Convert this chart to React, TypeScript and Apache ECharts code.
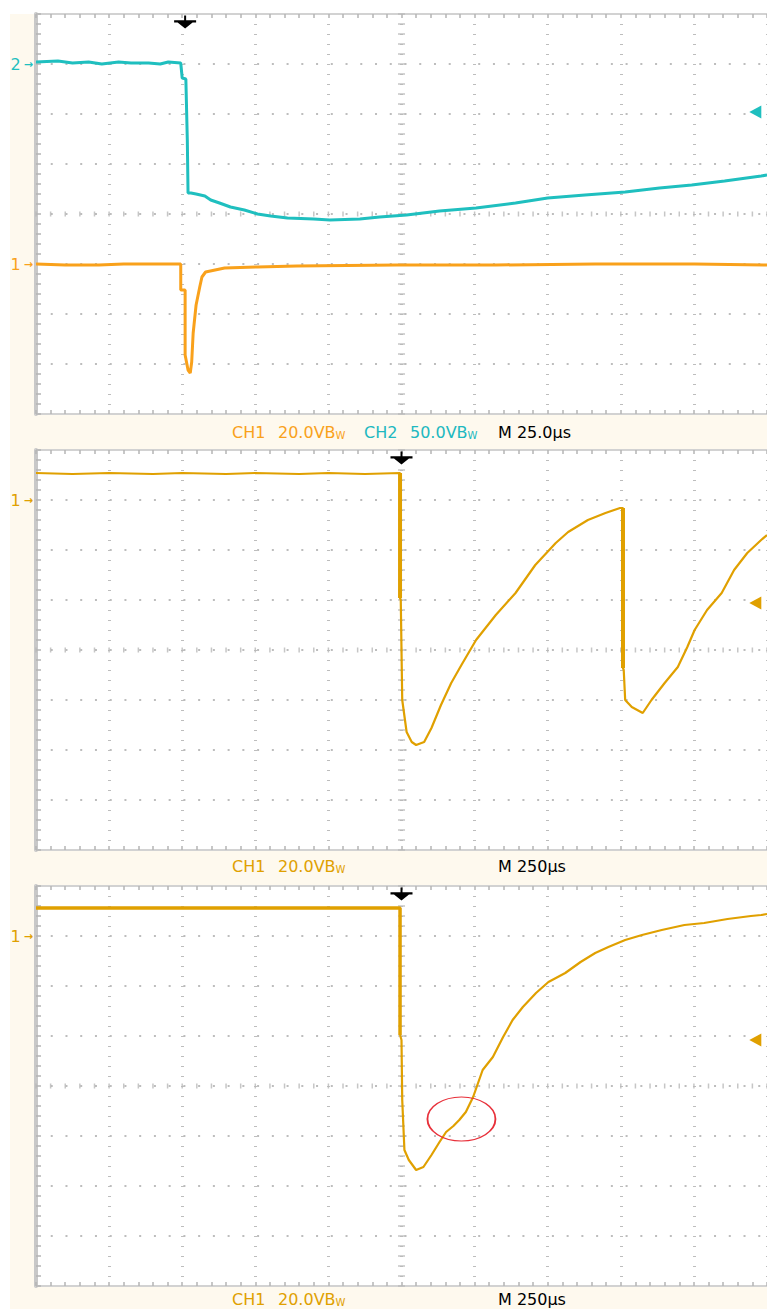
import React, { useEffect, useRef } from "react";
import * as echarts from "echarts";

// x: divisions from the left edge of the graticule (0..10), y: divisions from the centre (-4..4)

// Panel 1 — 25.0 µs/div
const panel1Ch2: number[][] = [
  [0, 3.04], [0.3, 3.06], [0.5, 3.02], [0.72, 3.04], [0.9, 3.0], [1.13, 3.04], [1.3, 3.02],
  [1.54, 3.02], [1.7, 3.0], [1.81, 3.04], [1.98, 3.02], [2.0, 2.72], [2.05, 2.7], [2.07, 1.48],
  [2.08, 0.42], [2.12, 0.42], [2.19, 0.4], [2.31, 0.36], [2.39, 0.28], [2.51, 0.22], [2.66, 0.14],
  [2.85, 0.08], [3.03, 0.0], [3.21, -0.04], [3.44, -0.08], [3.8, -0.1], [4.02, -0.12], [4.43, -0.1],
  [4.7, -0.06], [5.07, -0.02], [5.52, 0.06], [6.02, 0.12], [6.56, 0.22], [7.0, 0.32], [7.51, 0.38],
  [8.06, 0.44], [8.53, 0.52], [8.97, 0.58], [9.42, 0.66], [9.92, 0.76], [10, 0.78],
];
const panel1Ch1: number[][] = [
  [0, -1.0], [0.4, -1.02], [0.86, -1.02], [1.2, -1.0], [1.54, -1.0], [1.98, -1.0], [1.98, -1.52],
  [2.04, -1.52], [2.04, -2.82], [2.08, -3.12], [2.11, -3.18], [2.13, -2.96], [2.15, -2.38],
  [2.19, -1.82], [2.24, -1.46], [2.27, -1.26], [2.32, -1.16], [2.58, -1.08], [3.03, -1.06],
  [3.57, -1.04], [4.93, -1.02], [6.29, -1.02], [7.65, -1.0], [9.01, -1.0], [10, -1.02],
];

// Panel 2 — 250 µs/div
const panel2Ch1: number[][] = [
  [0, 3.54], [0.5, 3.52], [1.0, 3.54], [1.6, 3.52], [2.0, 3.54], [2.6, 3.52], [3.0, 3.54],
  [3.6, 3.52], [4.0, 3.54], [4.5, 3.52], [4.98, 3.54], [4.98, 1.04], [4.99, 1.0], [5.01, -1.0],
  [5.07, -1.64], [5.14, -1.84], [5.2, -1.9], [5.31, -1.84], [5.41, -1.56], [5.54, -1.1],
  [5.68, -0.66], [5.82, -0.3], [6.02, 0.2], [6.29, 0.7], [6.56, 1.14], [6.83, 1.7], [7.11, 2.14],
  [7.28, 2.36], [7.55, 2.6], [7.79, 2.74], [7.99, 2.84], [8.03, 2.84], [8.03, -0.36], [8.04, -0.4],
  [8.06, -1.0], [8.15, -1.14], [8.3, -1.26], [8.42, -1.0], [8.6, -0.66], [8.78, -0.34], [8.91, 0.06],
  [9.01, 0.4], [9.18, 0.8], [9.38, 1.14], [9.55, 1.6], [9.73, 1.94], [9.92, 2.2], [10, 2.3],
];
const panel2EdgeA: number[][] = [[4.98, 3.54], [4.98, 1.04]];
const panel2EdgeB: number[][] = [[8.03, 2.84], [8.03, -0.36]];

// Panel 3 — 250 µs/div
const panel3Pre: number[][] = [[0, 3.56], [4.98, 3.56], [4.98, 1.02]];
const panel3Post: number[][] = [
  [4.98, 1.02], [5.0, 0.92], [5.01, -0.28], [5.04, -1.28], [5.1, -1.48], [5.2, -1.68], [5.3, -1.62],
  [5.41, -1.38], [5.52, -1.12], [5.61, -0.92], [5.71, -0.8], [5.79, -0.68], [5.88, -0.52],
  [5.98, -0.22], [6.11, 0.32], [6.25, 0.58], [6.39, 0.98], [6.52, 1.32], [6.66, 1.58], [6.84, 1.86],
  [7.01, 2.08], [7.24, 2.26], [7.45, 2.48], [7.65, 2.66], [7.83, 2.78], [8.06, 2.92], [8.29, 3.02],
  [8.56, 3.12], [8.87, 3.22], [9.14, 3.26], [9.46, 3.34], [9.78, 3.4], [9.92, 3.42], [10, 3.44],
];
const panel3Highlight: number[] = [5.82, -0.66];

// markers
const triggerX: number[] = [2.04, 5.0, 5.0];
const triggerLevel: number[] = [2.04, 0.94, 0.92];
const channelMarkers = [
  [{ label: "2", at: 3, key: "c" }, { label: "1", at: -1, key: "o" }],
  [{ label: "1", at: 3, key: "g" }],
  [{ label: "1", at: 3, key: "g" }],
];

// scale read-outs
const scaleCh1: string[] = ["20.0V", "20.0V", "20.0V"];
const scaleCh2: string[] = ["50.0V", "", ""];
const scaleTime: string[] = ["M 25.0µs", "M 250µs", "M 250µs"];

const ORANGE = "#F9A11B";
const GOLD = "#E0A000";
const CYAN = "#1FBFBF";
const CREAM = "#FEF9EE";
const GRIDC = "#bdbdbd";
const FONT = '"DejaVu Sans", sans-serif';
const TOPS = [14, 450, 886];
const LEFT = 36;
const W = 737;
const H = 400;

const ARROW = "path://M10,0L12,0L12,5L22,5L22,7.5L18.5,7.5L11,14L3.5,7.5L0,7.5L0,5L10,5Z";
const TRI = "path://M0,6.5L12,0L12,13Z";
const ELLIPSE = "path://M0,50A50,50,0,1,1,100,50A50,50,0,1,1,0,50Z";

function buildOption() {
  const grid = TOPS.map((t) => ({
    left: LEFT, top: t, width: W, height: H, show: true, backgroundColor: "#ffffff", borderWidth: 0,
  }));

  const xAxis: any[] = [];
  const yAxis: any[] = [];
  TOPS.forEach((_, gi) => {
    ["bottom", "top"].forEach((pos) => {
      xAxis.push({
        type: "value", gridIndex: gi, position: pos, min: 0, max: 10, interval: 1,
        axisLine: { show: true, onZero: false, lineStyle: { color: "#d2d2d2", width: 2 } },
        axisTick: { show: true, inside: true, length: 4, lineStyle: { color: "#b5b5b5", width: 1.5 } },
        minorTick: { show: true, splitNumber: 5, length: 4, lineStyle: { color: "#b5b5b5", width: 1.5 } },
        axisLabel: { show: false },
        splitLine: { show: pos === "bottom", lineStyle: { color: GRIDC, width: 3, type: [1, 9] } },
      });
    });
    const markers = channelMarkers[gi];
    yAxis.push({
      type: "value", gridIndex: gi, position: "left", min: -4, max: 4, interval: 1,
      axisLine: { show: true, onZero: false, lineStyle: { color: "#c8c8c8", width: 4 } },
      axisTick: { show: true, inside: true, length: 5, lineStyle: { color: "#b5b5b5", width: 1.5 } },
      minorTick: { show: true, splitNumber: 5, length: 5, lineStyle: { color: "#b5b5b5", width: 1.5 } },
      axisLabel: {
        show: true, margin: 3,
        formatter: (v: number) => {
          const m = markers.find((mm) => Math.abs(mm.at - v) < 1e-6);
          return m ? `{${m.key}n|${m.label}}{${m.key}a|→}` : "";
        },
        rich: {
          cn: { color: CYAN, fontSize: 16, fontFamily: FONT, padding: [0, 3, 0, 0] },
          ca: { color: CYAN, fontSize: 11, fontWeight: "bold", fontFamily: FONT },
          on: { color: ORANGE, fontSize: 16, fontFamily: FONT, padding: [0, 3, 0, 0] },
          oa: { color: ORANGE, fontSize: 11, fontWeight: "bold", fontFamily: FONT },
          gn: { color: GOLD, fontSize: 16, fontFamily: FONT, padding: [0, 3, 0, 0] },
          ga: { color: GOLD, fontSize: 11, fontWeight: "bold", fontFamily: FONT },
        },
      },
      splitLine: { show: true, lineStyle: { color: GRIDC, width: 2, type: [2, 12.74] } },
    });
  });

  const series: any[] = [];
  // centre-line ticks of each graticule
  TOPS.forEach((_, gi) => {
    series.push({
      type: "scatter", xAxisIndex: gi * 2, yAxisIndex: gi, silent: true, symbol: "rect",
      symbolSize: [1.5, 5], itemStyle: { color: "#b8b8b8" }, z: 1,
      data: Array.from({ length: 51 }, (_, k) => [k / 5, 0]),
    });
    series.push({
      type: "scatter", xAxisIndex: gi * 2, yAxisIndex: gi, silent: true, symbol: "rect",
      symbolSize: [7, 1.5], itemStyle: { color: "#b8b8b8" }, z: 1,
      data: Array.from({ length: 41 }, (_, k) => [5, -4 + k / 5]),
    });
  });

  const line = (gi: number, data: number[][], color: string, width: number, extra: any = {}) => ({
    type: "line", xAxisIndex: gi * 2, yAxisIndex: gi, data, showSymbol: false, symbol: "none",
    silent: true, z: 3, lineStyle: { color, width }, ...extra,
  });
  const marks = (gi: number, color: string, more: any[] = []) => ({
    markPoint: {
      silent: true, label: { show: false },
      data: [
        { coord: [triggerX[gi], 4], symbol: ARROW, symbolSize: [22, 13], symbolOffset: [0, 8], itemStyle: { color: "#000" } },
        { coord: [9.84, triggerLevel[gi]], symbol: TRI, symbolSize: [12, 13], itemStyle: { color } },
        ...more,
      ],
    },
  });

  series.push(line(0, panel1Ch2, CYAN, 3, marks(0, CYAN)));
  series.push(line(0, panel1Ch1, ORANGE, 3));

  series.push(line(1, panel2Ch1, GOLD, 2.2, marks(1, GOLD)));
  series.push(line(1, panel2EdgeA, GOLD, 4));
  series.push(line(1, panel2EdgeB, GOLD, 4));

  series.push(line(2, panel3Pre, GOLD, 3.5, marks(2, GOLD, [
    { coord: panel3Highlight, symbol: ELLIPSE, symbolSize: [68, 44], itemStyle: { color: "transparent", borderColor: "#E8303A", borderWidth: 1.5 } },
  ])));
  series.push(line(2, panel3Post, GOLD, 2.2));

  const graphic: any[] = [
    { type: "rect", silent: true, z: -10, shape: { x: 10, y: 14, width: 26, height: 1295 }, style: { fill: CREAM } },
  ];
  const labelY = [432, 866, 1299];
  const mk = (x: number, y: number, text: string, color: string) => ({
    type: "text", x, y, silent: true, z: 10,
    style: {
      text, fill: color, font: `16px ${FONT}`, verticalAlign: "middle",
      rich: {
        w: { fill: color, fontSize: 10, fontFamily: FONT, verticalAlign: "bottom", padding: [6, 0, 0, 0] },
      },
    },
  });
  TOPS.forEach((t, gi) => {
    graphic.push({ type: "rect", silent: true, z: -10, shape: { x: 10, y: t + H, width: 757, height: 36 }, style: { fill: CREAM } });
    const c1 = gi === 0 ? ORANGE : GOLD;
    const y = labelY[gi];
    graphic.push(mk(232, y, "CH1", c1));
    graphic.push(mk(278, y, `${scaleCh1[gi]}B{w|W}`, c1));
    if (scaleCh2[gi]) {
      graphic.push(mk(364, y, "CH2", "#20B8C0"));
      graphic.push(mk(410, y, `${scaleCh2[gi]}B{w|W}`, "#20B8C0"));
    }
    graphic.push(mk(498, y, scaleTime[gi], "#000000"));
  });

  return { animation: false, backgroundColor: "#ffffff", grid, xAxis, yAxis, series, graphic };
}

export default function App() {
  const ref = useRef<HTMLDivElement>(null);
  useEffect(() => {
    document.body.style.margin = "0";
    const chart = echarts.init(ref.current as HTMLDivElement, null, { renderer: "svg" });
    chart.setOption(buildOption() as any);
    return () => chart.dispose();
  }, []);
  return <div ref={ref} style={{ width: 767, height: 1309 }} />;
}
